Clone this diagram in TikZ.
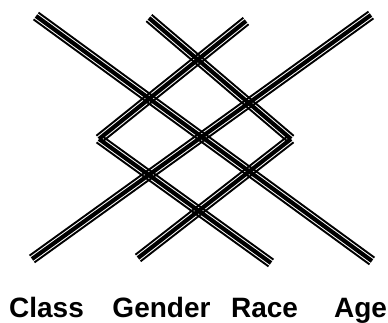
\documentclass[tikz,border=0pt]{standalone}
\usepackage{fontspec}
\setmainfont{Liberation Sans}
\usetikzlibrary{calc}
\tikzset{
  midline/.style={line width=4.2pt, line cap=butt},
  sideline/.style={line width=1.9pt, line cap=butt},
  lbl/.style={font=\bfseries\fontsize{28}{30}\selectfont, anchor=base, inner sep=0pt}
}
\newcommand\tripseg[2]{%
  \draw[midline] (#1) -- (#2);
  \draw[sideline] ($(#1)!4.2pt!90:(#2)$) -- ($(#2)!4.2pt!-90:(#1)$);
  \draw[sideline] ($(#1)!4.2pt!-90:(#2)$) -- ($(#2)!4.2pt!90:(#1)$);
}
\begin{document}
\begin{tikzpicture}[x=1pt,y=-1pt]
\useasboundingbox[fill=white] (0,0) rectangle (388,323);
% strand end points and corners
\coordinate (a1) at (32,259);  \coordinate (a2) at (371,15);
\coordinate (b1) at (36,16);   \coordinate (b2) at (372,261);
\coordinate (c1) at (149,18);  \coordinate (c2) at (291,139); \coordinate (c3) at (138,258);
\coordinate (d1) at (246,21);  \coordinate (d2) at (99,139);  \coordinate (d3) at (271,263);
\tripseg{a1}{a2}
\tripseg{b1}{b2}
\tripseg{c1}{c2}
\tripseg{c2}{c3}
\tripseg{d1}{d2}
\tripseg{d2}{d3}
\node[lbl] (class)  at (46.5,317) {Class};
\node[lbl] (gender) at (161.5,317) {Gender};
\node[lbl] (race)   at (264.5,317) {Race};
\node[lbl] (age)    at (360.5,317) {Age};
\end{tikzpicture}
\end{document}
